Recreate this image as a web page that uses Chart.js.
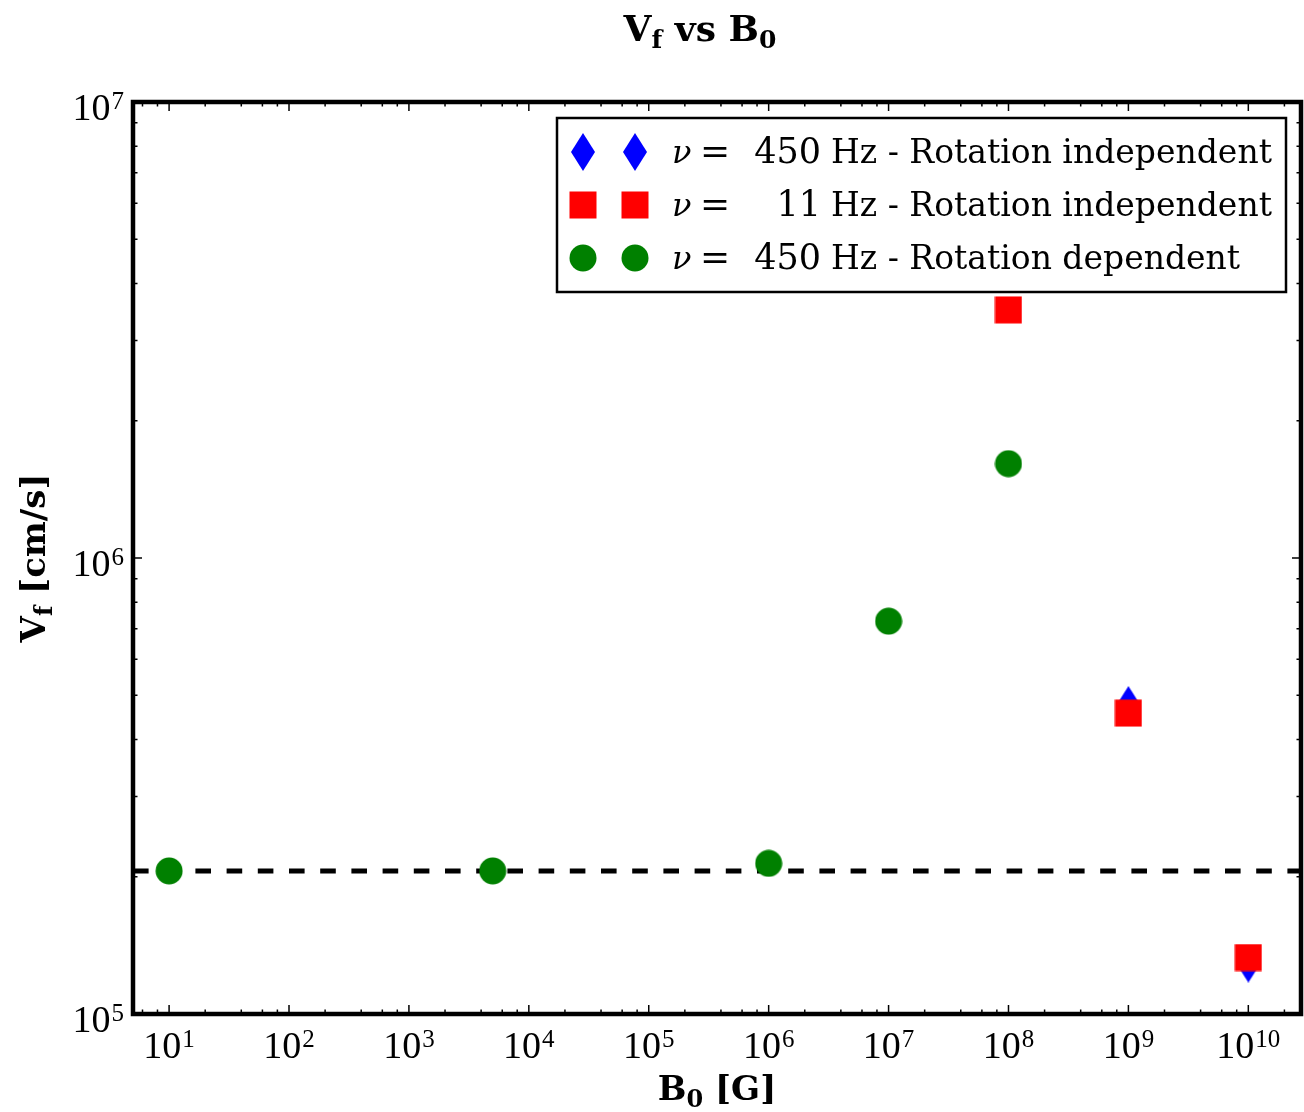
<!DOCTYPE html>
<html>
<head>
<meta charset="utf-8">
<script src="https://cdn.jsdelivr.net/npm/chart.js@4.4.0/dist/chart.umd.min.js"></script>
<style>
  html,body{margin:0;padding:0;background:#fff;overflow:hidden}
  #wrap{width:1304px;height:1112px}
  #chart{display:block}
</style>
</head>
<body>
<div id="wrap"><canvas id="chart" width="1304" height="1112"></canvas></div>
<script>
  // data
  var blueX=[1e9,1e10];
  var blueY=[4.76e5,1.29e5];
  var redX=[1e8,1e9,1e10];
  var redY=[3.5e6,4.57e5,1.33e5];
  var greenX=[10,5000,1e6,1e7,1e8];
  var greenY=[2.06e5,2.06e5,2.14e5,7.27e5,1.61e6];
  var dashedLevel=2.06e5;
  var xTickExps=[1,2,3,4,5,6,7,8,9,10];
  var yTickExps=[5,6,7];
  var xMinorSubs=[2,4,6,8];
  var yMinorSubs=[2,3,4,5,6,7,8,9];
  var legendFreq=['450','11','450'];
  var legendDesc=['Rotation independent','Rotation independent','Rotation dependent'];
  var xMin=5, xMax=2.75e10, yMin=1e5, yMax=1e7;

  function pts(xs,ys){
    return xs.map(function(x,i){return {x:x,y:ys[i]}});
  }

  function marker(kind,color){
    var c=document.createElement('canvas');
    var w=kind=='diamond'?24:28, h=kind=='diamond'?38:28;
    c.width=w; c.height=h;
    var g=c.getContext('2d');
    g.fillStyle=color;
    if(kind=='circle'){g.beginPath();g.arc(w/2,h/2,13.5,0,Math.PI*2);g.fill();}
    else if(kind=='square'){g.fillRect(0.5,0.5,27,27);}
    else{g.beginPath();g.moveTo(w/2,0);g.lineTo(w,h/2);g.lineTo(w/2,h);g.lineTo(0,h/2);g.closePath();g.fill();}
    return c;
  }
  var blueMark=marker('diamond','#0000ff');
  var redMark=marker('square','#ff0000');
  var greenMark=marker('circle','#008000');
  var marks=[blueMark,redMark,greenMark];

  function drawPow(ctx,exp,x,y,align){
    ctx.font='38px "Liberation Serif"';
    var w1=ctx.measureText('10').width;
    ctx.font='25px "Liberation Serif"';
    var w2=ctx.measureText(String(exp)).width;
    var total=w1+w2+1;
    var left=align=='center'?x-total/2:x-total;
    ctx.textAlign='left';
    ctx.textBaseline='alphabetic';
    ctx.font='38px "Liberation Serif"';
    ctx.fillText('10',left,y);
    ctx.font='25px "Liberation Serif"';
    ctx.fillText(String(exp),left+w1+1,y-11);
  }

  function drawRich(ctx,segs,cx,y,size){
    var fonts=segs.map(function(s){return 'bold '+(s.sub?Math.round(size*0.7):size)+'px "DejaVu Serif"'});
    var widths=segs.map(function(s,i){ctx.font=fonts[i];return ctx.measureText(s.t).width});
    var total=widths.reduce(function(a,b){return a+b},0);
    var x=cx-total/2;
    ctx.textAlign='left';
    ctx.textBaseline='alphabetic';
    segs.forEach(function(s,i){
      ctx.font=fonts[i];
      ctx.fillText(s.t,x,s.sub?y+size*0.2:y);
      x+=widths[i];
    });
  }

  var framePlugin={
    id:'frame',
    afterDraw:function(chart){
      var ctx=chart.ctx, a=chart.chartArea;
      var xs=chart.scales.x, ys=chart.scales.y;
      ctx.save();
      ctx.strokeStyle='#000';
      ctx.fillStyle='#000';
      ctx.lineWidth=1.5;
      // ticks, pointing inward on all four sides
      ctx.beginPath();
      for(var e=0;e<=10;e++){
        var list=[[Math.pow(10,e),9]];
        xMinorSubs.forEach(function(s){list.push([s*Math.pow(10,e),4.5])});
        list.forEach(function(t){
          if(t[0]<xMin||t[0]>xMax) return;
          var px=xs.getPixelForValue(t[0]);
          ctx.moveTo(px,a.bottom);ctx.lineTo(px,a.bottom-t[1]);
          ctx.moveTo(px,a.top);ctx.lineTo(px,a.top+t[1]);
        });
      }
      for(var e2=5;e2<=7;e2++){
        var list2=[[Math.pow(10,e2),9]];
        yMinorSubs.forEach(function(s){list2.push([s*Math.pow(10,e2),4.5])});
        list2.forEach(function(t){
          if(t[0]<yMin||t[0]>yMax) return;
          var py=ys.getPixelForValue(t[0]);
          ctx.moveTo(a.left,py);ctx.lineTo(a.left+t[1],py);
          ctx.moveTo(a.right,py);ctx.lineTo(a.right-t[1],py);
        });
      }
      ctx.stroke();
      // frame
      ctx.lineWidth=4.5;
      ctx.strokeRect(a.left,a.top,a.right-a.left,a.bottom-a.top);
      // tick labels
      xTickExps.forEach(function(e){drawPow(ctx,e,xs.getPixelForValue(Math.pow(10,e)),a.bottom+44,'center')});
      yTickExps.forEach(function(e){drawPow(ctx,e,a.left-9,ys.getPixelForValue(Math.pow(10,e))+18,'right')});
      // title and axis labels
      drawRich(ctx,[{t:'V'},{t:'f',sub:true},{t:' vs B'},{t:'0',sub:true}],700,41,36);
      drawRich(ctx,[{t:'B'},{t:'0',sub:true},{t:' [G]'}],(a.left+a.right)/2,1100,34);
      ctx.save();
      ctx.translate(45,(a.top+a.bottom)/2);
      ctx.rotate(-Math.PI/2);
      drawRich(ctx,[{t:'V'},{t:'f',sub:true},{t:' [cm/s]'}],0,0,34);
      ctx.restore();
      // legend
      var bl=a.right-744, bt=a.top+16, br=a.right-15, bb=a.top+190;
      ctx.fillStyle='#fff';
      ctx.fillRect(bl,bt,br-bl,bb-bt);
      ctx.lineWidth=2.5;
      ctx.strokeRect(bl,bt,br-bl,bb-bt);
      ctx.fillStyle='#000';
      for(var i=0;i<3;i++){
        var cy=bt+34+53*i;
        var m=marks[i];
        ctx.drawImage(m,bl+26-m.width/2,cy-m.height/2);
        ctx.drawImage(m,bl+78-m.width/2,cy-m.height/2);
        var base=cy+11, tx=bl+115;
        ctx.textBaseline='alphabetic';
        ctx.font='italic 32px "DejaVu Serif"';
        ctx.textAlign='left';
        ctx.fillText('ν',tx,base);
        ctx.font='36px "DejaVu Serif"';
        ctx.fillText('=',tx+28,base);
        ctx.font='35px "DejaVu Serif"';
        ctx.textAlign='right';
        ctx.fillText(legendFreq[i],tx+149,base);
        ctx.font='33px "DejaVu Serif"';
        ctx.textAlign='left';
        ctx.fillText('Hz - '+legendDesc[i],tx+159,base);
      }
      ctx.restore();
    }
  };

  var ctx=document.getElementById('chart');
  var myChart=new Chart(ctx,{
    type:'scatter',
    data:{
      datasets:[
        {
          label:'ν = '+legendFreq[0]+' Hz - '+legendDesc[0],
          data:pts(blueX,blueY),
          pointStyle:blueMark,
          pointRadius:13,
          order:2
        },
        {
          label:'ν = '+legendFreq[1]+' Hz - '+legendDesc[1],
          data:pts(redX,redY),
          pointStyle:redMark,
          pointRadius:13,
          order:1
        },
        {
          label:'ν = '+legendFreq[2]+' Hz - '+legendDesc[2],
          data:pts(greenX,greenY),
          pointStyle:greenMark,
          pointRadius:13,
          order:3
        },
        {
          type:'line',
          label:'level',
          data:[{x:xMin,y:dashedLevel},{x:xMax,y:dashedLevel}],
          borderColor:'#000',
          borderWidth:5,
          borderDash:[15.6,15.6],
          pointRadius:0,
          fill:false,
          order:4
        }
      ]
    },
    options:{
      responsive:false,
      animation:false,
      layout:{autoPadding:false,padding:{left:133,top:102,right:3,bottom:98}},
      plugins:{legend:{display:false},tooltip:{enabled:false}},
      scales:{
        x:{type:'logarithmic',min:xMin,max:xMax,display:false},
        y:{type:'logarithmic',min:yMin,max:yMax,display:false}
      }
    },
    plugins:[framePlugin]
  });
</script>
</body>
</html>
